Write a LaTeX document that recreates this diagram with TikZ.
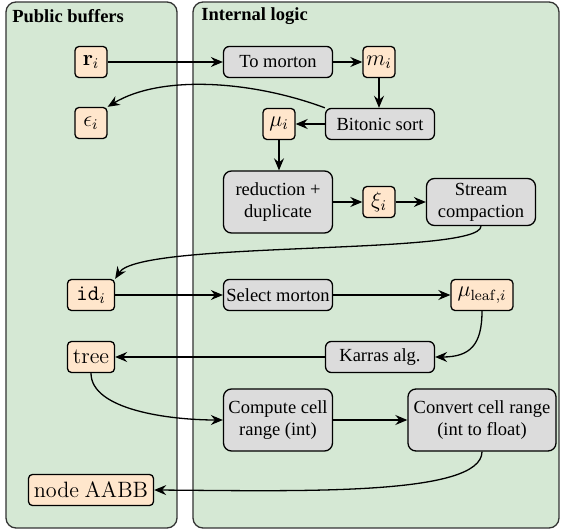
\documentclass[tikz,border=0pt]{standalone}
\usepackage[no-math]{fontspec}
\setmainfont{Liberation Serif}
\usetikzlibrary{arrows.meta}
\definecolor{panelgreen}{HTML}{D5E8D4}
\definecolor{bufcol}{HTML}{FFE6CC}
\definecolor{proccol}{HTML}{DCDCDC}
\definecolor{edgecol}{HTML}{333333}
\tikzset{
  panel/.style={draw=edgecol, fill=panelgreen, rounded corners=5.4pt, line width=0.7pt},
  paneltitle/.style={anchor=west, font=\fontsize{10}{12}\selectfont\bfseries, inner sep=0pt},
  buf/.style={draw=black, fill=bufcol, rounded corners=2.2pt, line width=0.7pt, minimum width=17.3pt, minimum height=16.8pt, inner sep=1pt, font=\fontsize{12}{14}\selectfont},
  proc/.style={draw=black, fill=proccol, rounded corners=3.2pt, line width=0.7pt, minimum width=58.9pt, minimum height=16.8pt, inner sep=1pt, align=center, font=\fontsize{10}{11.8}\selectfont},
  conn/.style={line width=0.7pt, -{Stealth[length=6.5pt,width=5.4pt,inset=2.2pt]}}
}
\begin{document}
\begin{tikzpicture}[x=0.5405pt,y=-0.5405pt]
\useasboundingbox (0,0) rectangle (561,532);
% panels
\draw[panel] (6,2) rectangle (177,528);
\draw[panel] (193,2) rectangle (559,528);
\node[paneltitle] (t1) at (12,16) {Public buffers};
\node[paneltitle] (t2) at (201,16) {Internal logic};
% buffers
\node[buf] (r) at (91,62) {$\mathbf{r}_i$};
\node[buf] (eps) at (91,123) {$\epsilon_i$};
\node[buf, minimum width=25.4pt] (id) at (91,295) {$\mathtt{id}_i$};
\node[buf, minimum width=25.4pt] (tree) at (91,357) {$\mathrm{tree}$};
\node[buf, minimum width=67.6pt] (aabb) at (91,490) {$\mathrm{node\ AABB}$};
\node[buf] (m) at (379,62) {$m_i$};
\node[buf] (mu) at (279,124) {$\mu_i$};
\node[buf] (xi) at (379,202) {$\xi_i$};
\node[buf, minimum width=33.5pt] (mul) at (482,295) {$\mu_{\mathrm{leaf},i}$};
% processes
\node[proc] (tom) at (278,62) {To morton};
\node[proc] (bit) at (380,124) {Bitonic sort};
\node[proc, minimum height=33.5pt, rounded corners=4.3pt] (red) at (278,202) {reduction +\\duplicate};
\node[proc, minimum height=25.4pt, rounded corners=4.3pt] (str) at (481,202) {Stream\\compaction};
\node[proc] (sel) at (278,295) {Select morton};
\node[proc] (kar) at (380,357) {Karras alg.};
\node[proc, minimum height=33.5pt, rounded corners=4.3pt] (comp) at (278,420) {Compute cell\\range (int)};
\node[proc, minimum width=80pt, minimum height=33.5pt, rounded corners=4.3pt] (conv) at (482,420) {Convert cell range\\(int to float)};
% connectors
\draw[conn] (r) -- (tom);
\draw[conn] (tom) -- (m);
\draw[conn] (m) -- (m |- bit.north);
\draw[conn] (bit) -- (mu);
\draw[conn] (bit.north west) .. controls (250,80) and (160,75) .. (eps.north east);
\draw[conn] (mu) -- (mu |- red.north);
\draw[conn] (red) -- (xi);
\draw[conn] (xi) -- (str);
\draw[conn] (str.south) .. controls (481,256) and (140,240) .. (id.north east);
\draw[conn] (id) -- (sel);
\draw[conn] (sel) -- (mul);
\draw[conn] (mul.south) .. controls (482,345) and (470,357) .. (kar.east);
\draw[conn] (kar) -- (tree);
\draw[conn] (tree.south) .. controls (91,410) and (170,420) .. (comp.west);
\draw[conn] (comp) -- (conv);
\draw[conn] (conv.south) .. controls (482,496) and (300,491) .. (aabb.east);
\end{tikzpicture}
\end{document}
